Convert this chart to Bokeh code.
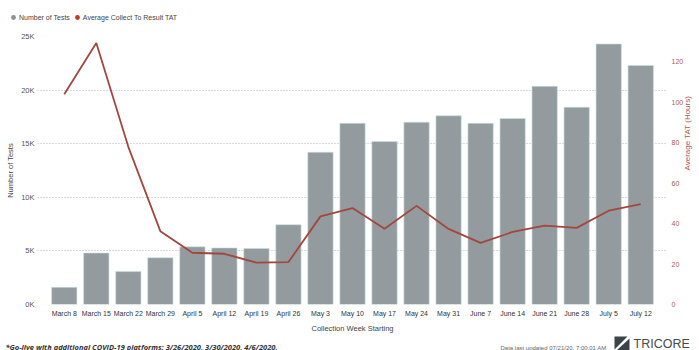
import math
from bokeh.plotting import figure
from bokeh.layouts import column, row
from bokeh.models import (FactorRange, Range1d, LinearAxis, FixedTicker, Legend,
                          LegendItem, Label, ColumnDataSource)
from bokeh.embed import file_html
from bokeh.resources import INLINE

weeks = ["March 8", "March 15", "March 22", "March 29", "April 5", "April 12",
         "April 19", "April 26", "May 3", "May 10", "May 17", "May 24", "May 31",
         "June 7", "June 14", "June 21", "June 28", "July 5", "July 12"]
tests = [1600, 4800, 3070, 4360, 5380, 5280, 5220, 7440, 14200, 16900, 15200,
         17000, 17600, 16900, 17350, 20350, 18400, 24300, 22300]
tat_hours = [104, 129.4, 78, 36.3, 25.6, 25.1, 20.7, 21, 43.6, 47.7, 37.5, 48.8,
             37.4, 30.5, 35.9, 39, 37.9, 46.4, 49.7]
left_ticks = [0, 5000, 10000, 15000, 20000, 25000]
left_tick_labels = ["0K", "5K", "10K", "15K", "20K", "25K"]
right_ticks = [0, 20, 40, 60, 80, 100, 120]

FONT = "Liberation Sans"
BAR = "#939b9e"
LINE = "#a3463f"
RED_TXT = "#b0574f"
W = 699


def blank(height):
    f = figure(width=W, height=height, x_range=Range1d(0, W), y_range=Range1d(0, height),
               x_axis_type=None, y_axis_type=None,
               output_backend="svg", toolbar_location=None,
               min_border=0, min_border_left=0, min_border_right=0,
               min_border_top=0, min_border_bottom=0)
    f.grid.visible = False
    f.outline_line_color = None
    return f


# ---------- header with legend ----------
head = blank(26)
g1 = head.scatter(x=[-50], y=[-50], marker="circle", size=6, fill_color="#8a8f92", line_color=None)
g2 = head.scatter(x=[-50], y=[-50], marker="circle", size=6, fill_color="#c0392b", line_color=None)
legend = Legend(items=[LegendItem(label="Number of Tests", renderers=[g1]),
                       LegendItem(label="Average Collect To Result TAT", renderers=[g2])],
                orientation="horizontal", location=(7, 3),
                padding=0, margin=0, spacing=1, glyph_width=12, glyph_height=12,
                label_standoff=0, label_height=9, label_text_font=FONT,
                label_text_font_size="7px", label_text_color="#444444",
                background_fill_alpha=0, border_line_color=None)
head.add_layout(legend, "center")

# ---------- main chart ----------
src = ColumnDataSource(dict(week=weeks, tests=tests, tat=tat_hours))

p = figure(width=W, height=309,
           x_range=FactorRange(factors=weeks, range_padding=0.336,
                               range_padding_units="absolute"),
           y_range=Range1d(0, 25000),
           output_backend="svg", toolbar_location=None,
           min_border_left=37, min_border_right=27,
           min_border_top=10, min_border_bottom=28)
p.outline_line_color = None
p.extra_y_ranges = {"tat": Range1d(0, 132.6)}

p.xgrid.visible = False
p.ygrid.ticker = FixedTicker(ticks=left_ticks)
p.ygrid.grid_line_color = "#b5b5b5"
p.ygrid.grid_line_dash = "1 2"
p.ygrid.grid_line_width = 1

p.vbar(x="week", top="tests", width=0.79, source=src,
       fill_color=BAR, line_color="#c9dfe2", line_width=0.6)
p.line(x="week", y="tat", y_range_name="tat", source=src,
       line_color=LINE, line_width=1.8)


def style_axis(ax, size, color, standoff):
    ax.axis_line_color = None
    ax.major_tick_line_color = None
    ax.minor_tick_line_color = None
    ax.major_tick_out = 0
    ax.major_tick_in = 0
    ax.minor_tick_out = 0
    ax.minor_tick_in = 0
    ax.major_label_standoff = standoff
    ax.major_label_text_font = FONT
    ax.major_label_text_font_size = size
    ax.major_label_text_color = color
    ax.axis_label_text_font = FONT
    ax.axis_label_text_font_style = "normal"


ya = p.yaxis[0]
ya.ticker = FixedTicker(ticks=left_ticks)
ya.major_label_overrides = {t: l for t, l in zip(left_ticks, left_tick_labels)}
style_axis(ya, "7.5px", "#555555", 3)
ya.axis_label = "Number of Tests"
ya.axis_label_text_font_size = "7.5px"
ya.axis_label_text_color = "#444444"
ya.axis_label_standoff = 3

xa = p.xaxis[0]
style_axis(xa, "7px", "#333333", 5)
xa.axis_label = "Collection Week Starting"
xa.axis_label_text_font_size = "7.5px"
xa.axis_label_text_color = "#444444"
xa.axis_label_standoff = 4

ra = LinearAxis(y_range_name="tat", ticker=FixedTicker(ticks=right_ticks))
style_axis(ra, "7px", RED_TXT, 4)
ra.axis_label = "Average TAT (Hours)"
ra.axis_label_text_font_size = "8px"
ra.axis_label_text_color = RED_TXT
ra.axis_label_standoff = 1
ra.axis_label_orientation = math.pi / 2
p.add_layout(ra, "right")

# ---------- footer ----------
foot = blank(15)
foot.add_layout(Label(x=5, y=4, text="*Go-live with additional COVID-19 platforms: 3/26/2020, 3/30/2020, 4/6/2020.",
                      text_baseline="middle", text_font="Open Sans",
                      text_font_size="7.5px", text_font_style="bold italic",
                      text_color="#333333"))
foot.add_layout(Label(x=500, y=3, text="Data last updated 07/21/20, 7:00:01 AM",
                      text_baseline="middle", text_font=FONT,
                      text_font_size="6px", text_color="#666666"))
foot.add_layout(Label(x=633, y=7, text="TRICORE", text_baseline="middle",
                      text_font=FONT, text_font_size="12.5px", text_color="#454c50"))
foot.patches(xs=[[614, 627, 614], [629, 629, 616]],
             ys=[[14, 14, 1], [12, 0, 0]],
             fill_color="#3d4448", line_color=None)

layout = column(row(head), p, row(foot), spacing=0)
open("out.html", "w").write(file_html(layout, INLINE))
